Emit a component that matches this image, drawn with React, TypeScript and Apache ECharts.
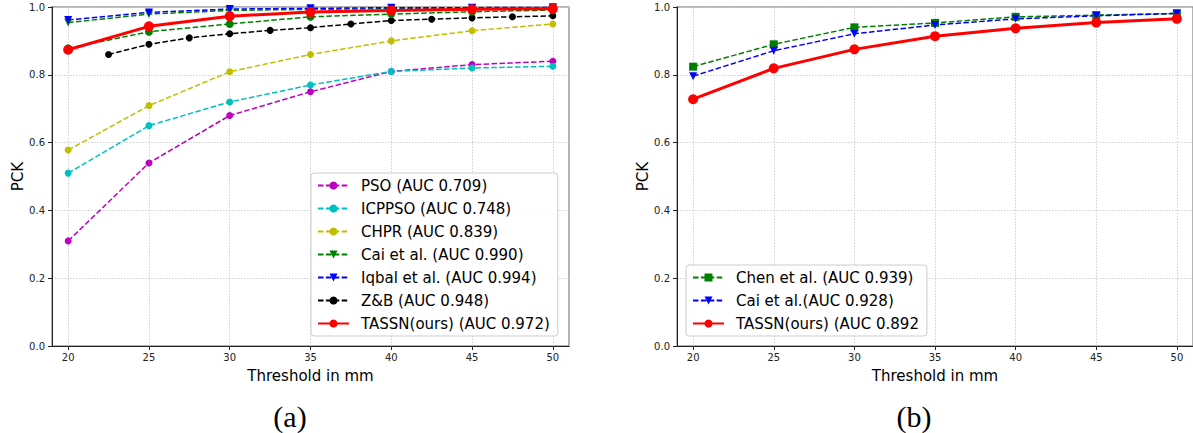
import React, { useEffect, useRef } from "react";
import * as echarts from "echarts";

const thresholds = [20, 25, 30, 35, 40, 45, 50];
const zbThresholds = [22.5, 25, 27.5, 30, 32.5, 35, 37.5, 40, 42.5, 45, 47.5, 50];

// Panel (a)
const pso = [0.31, 0.54, 0.68, 0.75, 0.81, 0.83, 0.84];
const icppso = [0.51, 0.65, 0.72, 0.77, 0.81, 0.82, 0.825];
const chpr = [0.578, 0.709, 0.809, 0.86, 0.9, 0.93, 0.95];
const caiA = [0.954, 0.979, 0.99, 0.993, 0.995, 0.996, 0.997];
const iqbal = [0.962, 0.984, 0.994, 0.996, 0.998, 0.998, 0.999];
const zb = [0.86, 0.89, 0.909, 0.921, 0.931, 0.939, 0.95, 0.96, 0.964, 0.968, 0.971, 0.974];
const caiCircles = [0.878, 0.927, 0.95, 0.971, 0.979, 0.986, 0.991];
const tassnA = [0.874, 0.943, 0.973, 0.985, 0.99, 0.993, 0.995];

// Panel (b)
const chen = [0.824, 0.89, 0.94, 0.953, 0.971, 0.976, 0.981];
const caiB = [0.796, 0.871, 0.921, 0.947, 0.965, 0.974, 0.981];
const tassnB = [0.728, 0.819, 0.875, 0.914, 0.937, 0.954, 0.965];

const namesA = [
  "PSO (AUC 0.709)",
  "ICPPSO (AUC 0.748)",
  "CHPR (AUC 0.839)",
  "Cai et al. (AUC 0.990)",
  "Iqbal et al. (AUC 0.994)",
  "Z&B (AUC 0.948)",
  "TASSN(ours) (AUC 0.972)",
];
const namesB = ["Chen et al. (AUC 0.939)", "Cai et al.(AUC 0.928)", "TASSN(ours) (AUC 0.892"];

const FONT = "DejaVu Sans";
const DASH = [5.5, 2.4];

function pairs(xs: number[], ys: number[]) {
  return xs.map((x, i) => [x, ys[i]]);
}

function dashed(name: string, xs: number[], ys: number[], color: string, symbol: string, size: number, idx: number, rotate = 0) {
  return {
    type: "line",
    name,
    xAxisIndex: idx,
    yAxisIndex: idx,
    data: pairs(xs, ys),
    symbol,
    symbolSize: size,
    symbolRotate: rotate,
    showSymbol: true,
    color,
    itemStyle: { color },
    lineStyle: { color, width: 1.5, type: DASH },
  };
}

function solid(name: string, xs: number[], ys: number[], idx: number) {
  return {
    type: "line",
    name,
    xAxisIndex: idx,
    yAxisIndex: idx,
    data: pairs(xs, ys),
    symbol: "circle",
    symbolSize: 10,
    color: "#ff0000",
    itemStyle: { color: "#ff0000" },
    lineStyle: { color: "#ff0000", width: 3, type: "solid" },
  };
}

function gridLines(idx: number) {
  return {
    type: "line",
    name: "_grid" + idx,
    xAxisIndex: idx,
    yAxisIndex: idx,
    data: [],
    z: 0,
    markLine: {
      z: 0,
      silent: true,
      symbol: ["none", "none"],
      label: { show: false },
      lineStyle: { color: "#cfcfcf", type: [1.5, 1.5], width: 1 },
      data: thresholds.map((x) => ({ xAxis: x })),
    },
  };
}

function xAxis(idx: number) {
  return {
    type: "value",
    gridIndex: idx,
    min: 19,
    max: 51,
    name: "Threshold in mm",
    nameLocation: "middle",
    nameGap: 22,
    nameTextStyle: { fontFamily: FONT, fontSize: 15, color: "#000" },
    axisLine: { show: true, onZero: false, lineStyle: { color: "#222", width: 1 } },
    axisTick: { show: true, length: 4, customValues: thresholds, lineStyle: { color: "#222" } },
    axisLabel: { customValues: thresholds, fontFamily: FONT, fontSize: 10, color: "#222", margin: 6 },
    splitLine: { show: false },
  };
}

function yAxis(idx: number) {
  return {
    type: "value",
    gridIndex: idx,
    min: 0,
    max: 1,
    interval: 0.2,
    name: "PCK",
    nameLocation: "middle",
    nameGap: 26,
    nameRotate: 90,
    nameTextStyle: { fontFamily: FONT, fontSize: 15, color: "#000" },
    axisLine: { show: true, onZero: false, lineStyle: { color: "#222", width: 1 } },
    axisTick: { show: true, length: 4, lineStyle: { color: "#222" } },
    axisLabel: {
      fontFamily: FONT,
      fontSize: 10,
      color: "#222",
      margin: 7,
      formatter: (v: number) => v.toFixed(1),
    },
    splitLine: { show: true, lineStyle: { color: "#cfcfcf", type: [1.5, 1.5], width: 1 } },
  };
}

function legend(names: string[], left: number, top: number) {
  return {
    data: names,
    left,
    top,
    orient: "vertical",
    selectedMode: false,
    itemWidth: 31,
    itemHeight: 10,
    itemGap: 8,
    padding: [5, 8, 5, 6],
    backgroundColor: "rgba(255,255,255,0.85)",
    borderColor: "#cccccc",
    borderWidth: 1,
    borderRadius: 3,
    textStyle: { fontFamily: FONT, fontSize: 15, color: "#000", lineHeight: 15, padding: [0, 0, 0, 7] },
  };
}

export default function App() {
  const ref = useRef<HTMLDivElement>(null);
  useEffect(() => {
    if (!ref.current) return;
    const chart = echarts.init(ref.current, undefined, { renderer: "svg" });
    const option = {
      animation: false,
      backgroundColor: "#ffffff",
      grid: [
        { left: 52, top: 7, width: 517, height: 339, show: true, borderColor: "#9a9a9a", borderWidth: 1.5, backgroundColor: "transparent" },
        { left: 677, top: 7, width: 517, height: 339, show: true, borderColor: "#9a9a9a", borderWidth: 1.5, backgroundColor: "transparent" },
      ],
      xAxis: [xAxis(0), xAxis(1)],
      yAxis: [yAxis(0), yAxis(1)],
      legend: [legend(namesA, 311, 173), legend(namesB, 686, 265)],
      series: [
        gridLines(0),
        gridLines(1),
        dashed(namesA[0], thresholds, pso, "#bf00bf", "circle", 7, 0),
        dashed(namesA[1], thresholds, icppso, "#00bfbf", "circle", 7, 0),
        dashed(namesA[2], thresholds, chpr, "#bfbf00", "circle", 7, 0),
        dashed(namesA[3], thresholds, caiA, "#008000", "triangle", 8, 0, 180),
        dashed(namesA[4], thresholds, iqbal, "#0000ff", "triangle", 8, 0, 180),
        dashed(namesA[5], zbThresholds, zb, "#000000", "circle", 7, 0),
        dashed("Cai et al. (circles)", thresholds, caiCircles, "#008000", "circle", 8, 0),
        solid(namesA[6], thresholds, tassnA, 0),
        dashed(namesB[0], thresholds, chen, "#008000", "rect", 8, 1),
        dashed(namesB[1], thresholds, caiB, "#0000ff", "triangle", 8, 1, 180),
        solid(namesB[2], thresholds, tassnB, 1),
      ],
      graphic: [
        {
          type: "text",
          x: 290,
          y: 416,
          style: { text: "(a)", fontFamily: "Liberation Serif", fontSize: 30, fill: "#000", textAlign: "center", textVerticalAlign: "middle" },
        },
        {
          type: "text",
          x: 914,
          y: 416,
          style: { text: "(b)", fontFamily: "Liberation Serif", fontSize: 30, fill: "#000", textAlign: "center", textVerticalAlign: "middle" },
        },
      ],
    };
    chart.setOption(option as any);
    return () => chart.dispose();
  }, []);
  return <div ref={ref} style={{ position: "fixed", left: 0, top: 0, width: 1193, height: 433 }} />;
}
